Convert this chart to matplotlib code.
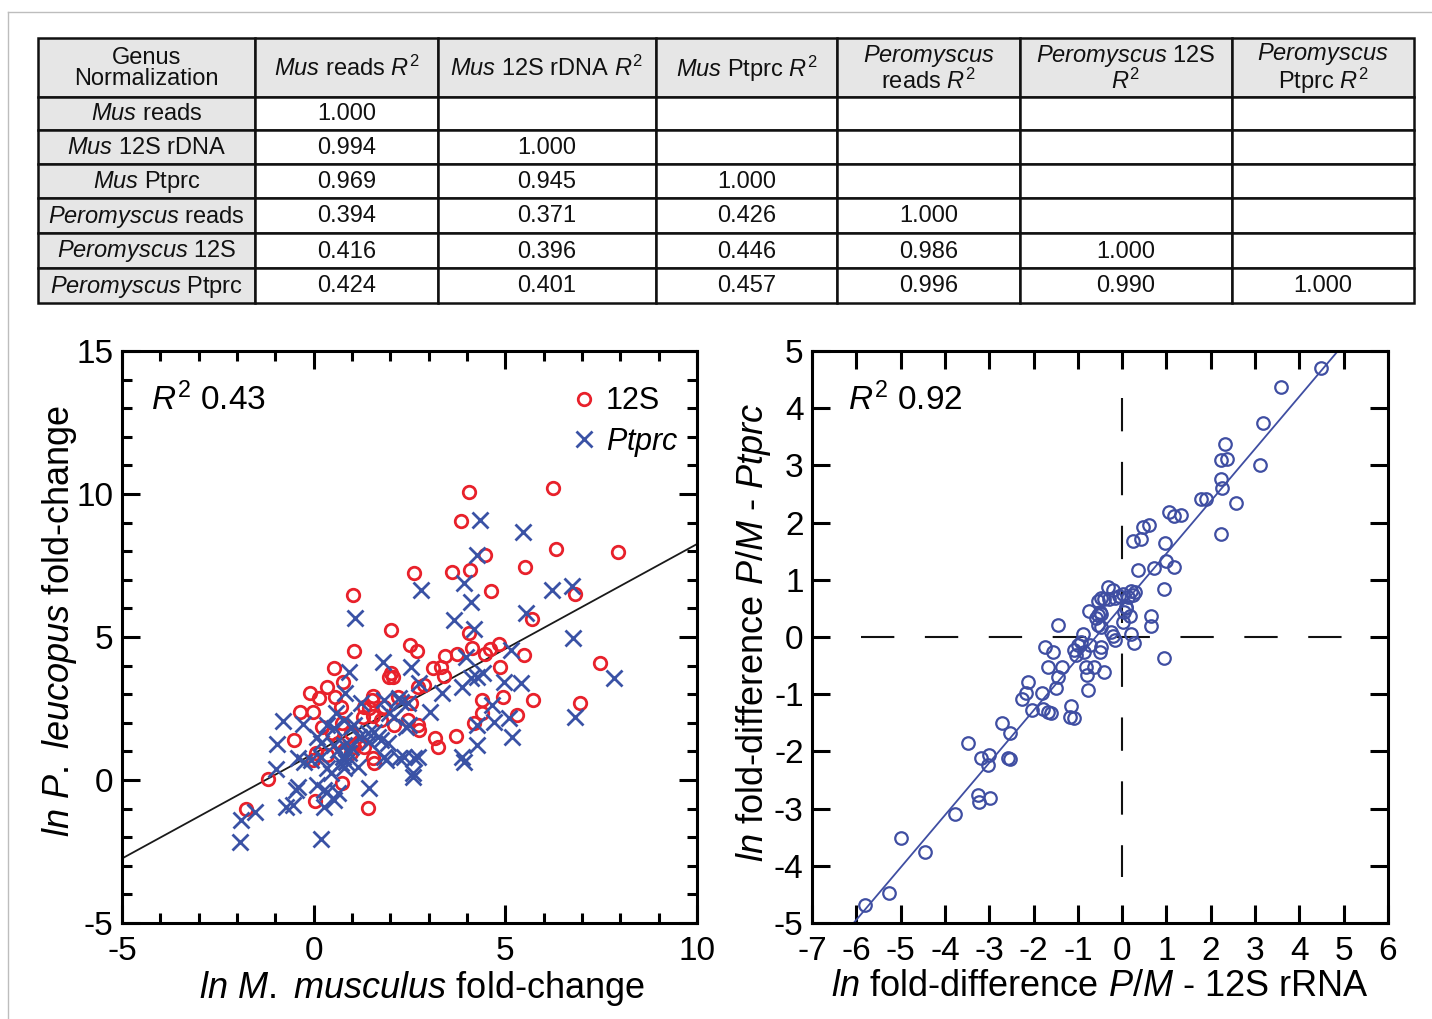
import matplotlib
matplotlib.use('Agg')
import matplotlib.pyplot as plt
from matplotlib.patches import Rectangle
from matplotlib.lines import Line2D
from matplotlib.ticker import MultipleLocator

plt.rcParams['font.family'] = ['Liberation Sans', 'DejaVu Sans']
plt.rcParams['mathtext.fontset'] = 'custom'
plt.rcParams['mathtext.rm'] = 'Liberation Sans'
plt.rcParams['mathtext.it'] = 'Liberation Sans:italic'
plt.rcParams['mathtext.bf'] = 'Liberation Sans:bold'
plt.rcParams['axes.unicode_minus'] = False
plt.rcParams['lines.scale_dashes'] = False

# ---------------- table data ----------------
table_col_labels = [
    'Genus\nNormalization',
    r'$\mathit{Mus}$ reads $\mathit{R}^{2}$',
    r'$\mathit{Mus}$ 12S rDNA $\mathit{R}^{2}$',
    r'$\mathit{Mus}$ Ptprc $\mathit{R}^{2}$',
    '$\\mathit{Peromyscus}$\nreads $\\mathit{R}^{2}$',
    '$\\mathit{Peromyscus}$ 12S\n$\\mathit{R}^{2}$',
    '$\\mathit{Peromyscus}$\nPtprc $\\mathit{R}^{2}$',
]
table_row_labels = [
    r'$\mathit{Mus}$ reads',
    r'$\mathit{Mus}$ 12S rDNA',
    r'$\mathit{Mus}$ Ptprc',
    r'$\mathit{Peromyscus}$ reads',
    r'$\mathit{Peromyscus}$ 12S',
    r'$\mathit{Peromyscus}$ Ptprc',
]
table_values = [
    ['1.000', '', '', '', '', ''],
    ['0.994', '1.000', '', '', '', ''],
    ['0.969', '0.945', '1.000', '', '', ''],
    ['0.394', '0.371', '0.426', '1.000', '', ''],
    ['0.416', '0.396', '0.446', '0.986', '1.000', ''],
    ['0.424', '0.401', '0.457', '0.996', '0.990', '1.000'],
]

# ---------------- left scatter data ----------------
mus_12s = [4.06, 6.25, 3.85, 6.33, 7.94, 4.47, 2.63, 3.62, 4.09, 5.52, 4.62, 6.83, 1.03, 5.69, 4.04,
           2.01, 1.06, 2.52, 2.69, 3.42, 3.75, 4.14, 4.46, 4.59, 4.84, 5.49, 3.10, 3.32, 3.39, 4.85,
           7.47, 2.73, 4.40, 4.95, 5.73, 6.96, 4.40, 4.17, 5.31, 2.45, 2.71, 2.75, 3.16, 3.25, 3.71,
           0.54, 2.01, 1.97, 2.06, 0.76, -0.09, 0.15, 0.35, 0.55, 0.71, -0.35, -0.03, 1.56, 1.51, 1.84,
           1.32, 1.45, 2.19, 2.88, 2.53, 1.28, 1.54, 1.75, 0.73, 0.23, 0.97, 0.49, 2.10, -0.52, 0.63,
           1.06, 1.19, 1.32, 0.80, 0.06, 0.36, 0.97, 1.56, 1.58, -0.03, -1.20, 0.73, 0.03, 1.42, -1.76]
pero_12s = [10.07, 10.20, 9.06, 8.08, 7.97, 7.87, 7.24, 7.27, 7.34, 7.45, 6.60, 6.50, 6.47, 5.62, 5.13,
            5.24, 4.52, 4.72, 4.52, 4.34, 4.39, 4.60, 4.41, 4.57, 4.76, 4.36, 3.90, 3.96, 3.64, 3.96,
            4.08, 3.24, 2.80, 2.91, 2.80, 2.68, 2.35, 2.00, 2.27, 2.10, 1.92, 1.75, 1.46, 1.16, 1.55,
            3.90, 3.73, 3.61, 3.59, 3.44, 3.05, 2.86, 3.24, 2.91, 2.56, 2.39, 2.37, 2.94, 2.80, 2.56,
            2.56, 2.51, 2.91, 3.32, 2.68, 2.21, 2.24, 2.10, 1.98, 1.86, 1.63, 1.63, 1.92, 1.40, 1.28,
            1.16, 1.34, 1.16, 1.05, 0.93, 0.87, 0.93, 0.76, 0.58, 0.70, 0.02, -0.09, -0.72, -0.99, -1.03]

mus_ptprc = [4.34, 5.47, 4.27, 2.79, 3.91, 4.11, 3.65, 4.18, 5.55, 6.22, 6.74, 6.76, 7.83, 2.53, 3.97,
             5.14, 2.75, 3.36, 3.88, 4.11, 4.27, 4.43, 4.97, 5.40, 3.04, 4.66, 4.27, 4.71, 5.10, 5.18,
             4.25, 6.83, 3.88, 3.92, 2.27, 2.23, 2.36, 2.62, 2.71, 2.58, 2.60, 2.40, 2.49,
             1.08, 1.80, 0.91, 0.82, 1.23, 2.23, 2.45, 1.84, 0.58, -0.81, -0.29, 0.36, 0.54, 0.80, 0.97,
             1.06, 1.41, 1.58, 1.97, 2.10, 0.10, 0.19, -0.96, 1.19, 1.67, 1.75, 1.93, 0.54, 0.63, 0.80,
             0.97, 0.93, 1.45, -0.42, -0.24, -0.07, 0.19, 0.76, 0.84, 0.71, 0.80, 1.15, 1.84, 1.88, 0.36,
             0.45, -0.98, -0.42, -0.46, 0.10, 0.28, 0.36, 0.63, 0.54, 0.28, 1.45, -0.72, -0.55, -1.54,
             -1.89, -1.91, 0.19]
pero_ptprc = [9.09, 8.68, 7.87, 6.64, 6.88, 6.23, 5.59, 5.27, 5.85, 6.64, 6.78, 4.98, 3.56, 3.94, 4.31,
              4.55, 3.38, 3.03, 3.26, 3.56, 3.61, 3.73, 3.44, 3.38, 2.39, 2.62, 1.92, 2.04, 2.16, 1.51,
              1.22, 2.21, 0.81, 0.64, 2.74, 0.76, 0.81, 0.76, 0.81, 0.23, 0.12, 1.86, 1.92,
              5.65, 4.14, 3.79, 3.05, 2.68, 2.86, 2.70, 2.80, 2.33, 2.07, 1.96, 1.92, 1.81, 2.10, 1.86,
              1.92, 1.63, 1.69, 2.33, 2.21, 1.51, 1.30, 1.26, 1.51, 1.51, 1.40, 1.30, 1.22, 1.05, 1.22,
              1.16, 0.93, 1.34, 0.76, 0.64, 0.70, 0.81, 0.81, 0.64, 0.58, 0.41, 0.47, 0.81, 0.70, 0.41,
              0.23, 0.37, -0.23, -0.35, -0.17, -0.35, -0.41, -0.47, -0.70, -0.93, -0.29, -0.93, -0.87, -1.11,
              -1.40, -2.16, -2.07]
left_fit_slope, left_fit_intercept = 0.733, 0.92
left_r2 = '0.43'

# ---------------- right scatter data ----------------
fd_12s = [-5.81, -5.26, -5.00, -4.45, -3.78, -3.26, -3.24, -2.98, -3.49, -3.19, -3.00, -3.02, -2.57, -2.53,
          -2.71, -2.53, -2.27, -2.17, -2.13, -2.04, -1.81, -1.79, -1.68, -1.61, -1.74, -1.55, -1.67, -1.36,
          -1.49, -1.44, -1.15, -1.17, -1.09, -0.78, -0.81, -0.63, -0.79, -0.40, -1.08, -1.04, -0.85, -0.93,
          -0.99, -0.72, -0.48, -0.51, -0.89, -1.44, -0.55, -0.48, -0.25, -0.21, -0.17, 0.20, 0.26, 0.94,
          -0.74, -0.51, -0.55, -0.48, -0.59, 0.09, 0.05, 0.02, 0.17, 0.64, 0.66,
          -0.48, -0.55, -0.40, -0.29, -0.17, -0.06, 0.02, 0.13, 0.24, 0.28, 0.19, -0.31, -0.21, 0.09,
          0.94, 0.36, 0.71, 1.00, 1.17, 0.24, 0.43, 0.97, 2.24, 0.47, 0.60, 1.06, 1.17, 1.32, 1.79, 1.90,
          2.58, 2.24, 2.26, 2.24, 2.37, 3.12, 2.31, 3.19, 3.58, 4.49]
fd_ptprc = [-4.68, -4.48, -3.52, -3.75, -3.09, -2.76, -2.89, -2.82, -1.86, -2.12, -2.06, -2.24, -2.12, -2.13,
            -1.51, -1.67, -1.09, -0.98, -0.78, -1.28, -0.98, -1.25, -1.31, -1.33, -0.18, -0.27, -0.52, -0.52,
            -0.89, -0.70, -1.21, -1.40, -1.42, -0.93, -0.52, -0.53, -0.66, -0.61, -0.23, -0.31, -0.27, -0.08,
            -0.14, -0.14, -0.18, -0.26, 0.06, 0.21, 0.21, 0.18, 0.08, 0.01, -0.06, 0.05, -0.11, -0.37,
            0.46, 0.44, 0.38, 0.41, 0.33, 0.53, 0.44, 0.27, 0.36, 0.37, 0.20,
            0.68, 0.63, 0.66, 0.66, 0.69, 0.72, 0.76, 0.70, 0.73, 0.79, 0.81, 0.87, 0.83, 0.50,
            0.84, 1.17, 1.21, 1.32, 1.23, 1.68, 1.72, 1.65, 1.80, 1.93, 1.95, 2.19, 2.12, 2.13, 2.42, 2.42,
            2.34, 2.77, 2.61, 3.09, 3.12, 3.01, 3.37, 3.75, 4.37, 4.71]
right_fit_slope, right_fit_intercept = 0.915, 0.545
right_r2 = '0.92'

RED = '#e8212b'
BLUE = '#3a52a5'
PURP = '#3f4ea2'

W, H = 1432, 1019
fig = plt.figure(figsize=(W / 100, H / 100), dpi=100)

# faint outer frame
fig.add_artist(Line2D([8 / W, 8 / W], [0, 1 - 12 / H], transform=fig.transFigure, color='#bdbdbd', lw=1))
fig.add_artist(Line2D([8 / W, 1], [1 - 12 / H, 1 - 12 / H], transform=fig.transFigure, color='#bdbdbd', lw=1))

# ---------------- table ----------------
col_edges = [38, 255, 438, 656, 837, 1020, 1232, 1414]
row_edges = [38, 97, 130, 164, 198, 233, 268, 303]
tax = fig.add_axes([col_edges[0] / W, 1 - row_edges[-1] / H,
                    (col_edges[-1] - col_edges[0]) / W, (row_edges[-1] - row_edges[0]) / H])
tax.set_xlim(col_edges[0], col_edges[-1])
tax.set_ylim(row_edges[-1], row_edges[0])
tax.axis('off')
GRAY = '#e6e6e6'
nrows = len(row_edges) - 1
ncols = len(col_edges) - 1
for r in range(nrows):
    for c in range(ncols):
        fc = GRAY if (r == 0 or c == 0) else 'white'
        tax.add_patch(Rectangle((col_edges[c], row_edges[r]), col_edges[c + 1] - col_edges[c],
                                row_edges[r + 1] - row_edges[r], facecolor=fc, edgecolor='#111111',
                                lw=1.8, clip_on=False))
        if r == 0:
            txt = table_col_labels[c]
        elif c == 0:
            txt = table_row_labels[r - 1]
        else:
            txt = table_values[r - 1][c - 1]
        tax.text((col_edges[c] + col_edges[c + 1]) / 2, (row_edges[r] + row_edges[r + 1]) / 2 + 1,
                 txt, ha='center', va='center', fontsize=17, multialignment='center',
                 linespacing=0.95, color='#111111')

# ---------------- common axis styling ----------------
def style_axes(ax):
    for s in ax.spines.values():
        s.set_linewidth(2.2)
    ax.tick_params(which='both', direction='in', top=True, right=True, width=2.2,
                   labelsize=24, pad=6)
    ax.tick_params(axis='x', which='both', pad=9)
    ax.tick_params(which='major', length=13)
    ax.tick_params(which='minor', length=7)

# ---------------- left scatter ----------------
axL = fig.add_axes([122 / W, 1 - 923 / H, (697 - 122) / W, (923 - 351) / H])
axL.set_xlim(-5, 10)
axL.set_ylim(-5, 15)
axL.xaxis.set_major_locator(MultipleLocator(5))
axL.xaxis.set_minor_locator(MultipleLocator(1))
axL.yaxis.set_major_locator(MultipleLocator(5))
axL.yaxis.set_minor_locator(MultipleLocator(1))
style_axes(axL)
axL.axline((0, left_fit_intercept), slope=left_fit_slope, color='#1a1a1a', lw=1.3, zorder=1)
axL.plot(mus_12s, pero_12s, 'o', ms=9, mfc='none', mec=RED, mew=2.0, label='12S', zorder=2)
axL.plot(mus_ptprc, pero_ptprc, 'x', ms=11.5, color=BLUE, mew=2.0, label=r'$\mathit{Ptprc}$', zorder=3)
axL.text(0.05, 0.915, r'$\mathit{R}^{2}$ ' + left_r2, transform=axL.transAxes, fontsize=24,
         ha='left', va='center')
leg = axL.legend(loc='upper right', bbox_to_anchor=(1.0, 0.97), frameon=False, fontsize=22,
                 handlelength=0.8, handletextpad=0.3, labelspacing=0.3, borderaxespad=0.2,
                 markerscale=1.0)
axL.set_xlabel(r'$\mathit{ln\ M.\ musculus}$ fold-change', fontsize=26, labelpad=2)
axL.set_ylabel(r'$\mathit{ln\ P.\ leucopus}$ fold-change', fontsize=26, labelpad=0)
axL.xaxis.set_label_coords(0.522, -0.081)
axL.yaxis.set_label_coords(-0.074, 0.528)

# ---------------- right scatter ----------------
axR = fig.add_axes([812 / W, 1 - 923 / H, (1388 - 812) / W, (923 - 351) / H])
axR.set_xlim(-7, 6)
axR.set_ylim(-5, 5)
axR.xaxis.set_major_locator(MultipleLocator(1))
axR.yaxis.set_major_locator(MultipleLocator(1))
style_axes(axR)
axR.plot([-5.9, 4.98], [0, 0], color='#111111', lw=1.5, dashes=(24, 22), zorder=1)
axR.plot([0, 0], [4.18, -4.2], color='#111111', lw=1.5, dashes=(24, 22), zorder=1)
axR.axline((0, right_fit_intercept), slope=right_fit_slope, color=PURP, lw=1.3, zorder=2)
axR.plot(fd_12s, fd_ptprc, 'o', ms=9, mfc='none', mec=PURP, mew=1.6, zorder=3)
axR.text(0.063, 0.915, r'$\mathit{R}^{2}$ ' + right_r2, transform=axR.transAxes, fontsize=24,
         ha='left', va='center')
axR.set_xlabel(r'$\mathit{ln}$ fold-difference $\mathit{P/M}$ - 12S rRNA', fontsize=26, labelpad=2)
axR.set_ylabel(r'$\mathit{ln}$ fold-difference $\mathit{P/M}$ - $\mathit{Ptprc}$', fontsize=26, labelpad=0)
axR.xaxis.set_label_coords(0.5, -0.081)
axR.yaxis.set_label_coords(-0.068, 0.508)

fig.savefig('out.png', dpi=100)
